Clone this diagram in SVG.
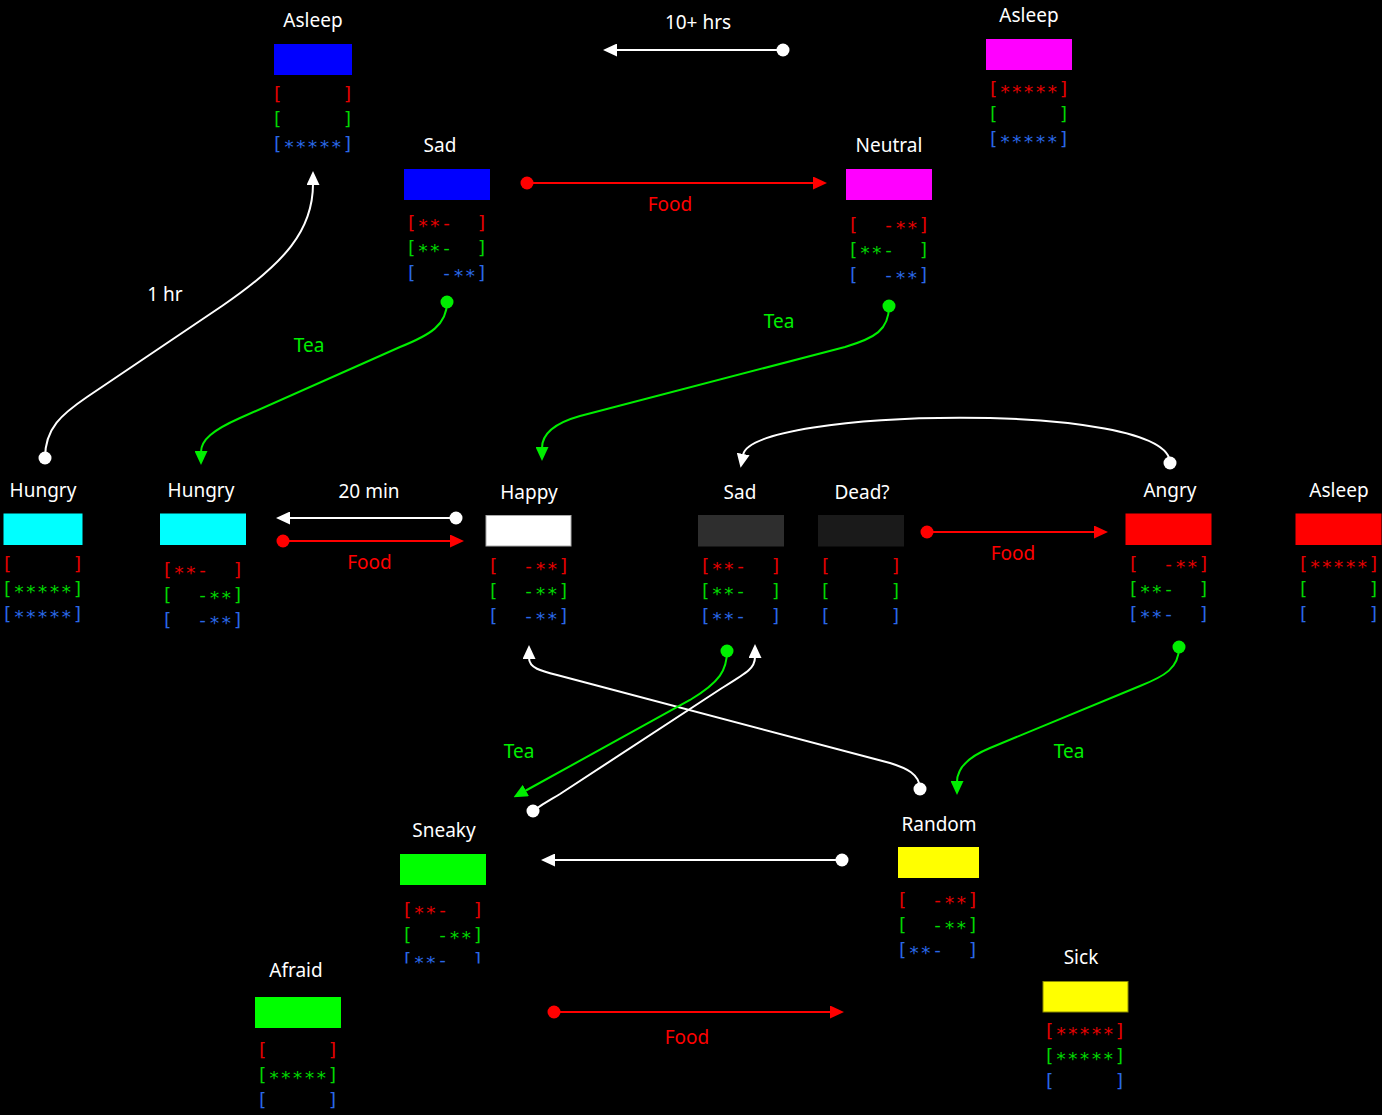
<svg xmlns="http://www.w3.org/2000/svg" width="1382" height="1115" viewBox="0 0 1382 1115">
<style>
.lbl{font-family:"Noto Sans","Open Sans",sans-serif;font-size:19px;fill:#fff;text-anchor:middle}
.lr{fill:#f00}
.lg{fill:#0e0}
.m{font-family:"DejaVu Sans Mono",monospace;font-size:18.5px;letter-spacing:0.7px;text-anchor:middle;white-space:pre}
.r{fill:#e60000}
.g{fill:#00d800}
.b{fill:#2a68e6}
.c{fill:none;stroke-width:2}
.cw{stroke:#fff}
.cr{stroke:#f00}
.cg{stroke:#0e0}
.w{marker-start:url(#dw);marker-end:url(#aw)}
.rd{marker-start:url(#dr);marker-end:url(#ar)}
.gr{marker-start:url(#dg);marker-end:url(#ag)}
</style>
<defs>
<marker id="aw" viewBox="0 0 14 13" refX="1" refY="6.5" markerWidth="14" markerHeight="13" orient="auto" markerUnits="userSpaceOnUse"><path d="M0,0 L14,6.5 L0,13 z" fill="#fff"/></marker>
<marker id="ar" viewBox="0 0 14 13" refX="1" refY="6.5" markerWidth="14" markerHeight="13" orient="auto" markerUnits="userSpaceOnUse"><path d="M0,0 L14,6.5 L0,13 z" fill="#f00"/></marker>
<marker id="ag" viewBox="0 0 14 13" refX="1" refY="6.5" markerWidth="14" markerHeight="13" orient="auto" markerUnits="userSpaceOnUse"><path d="M0,0 L14,6.5 L0,13 z" fill="#0e0"/></marker>
<marker id="dw" viewBox="-7 -7 14 14" refX="0" refY="0" markerWidth="14" markerHeight="14" markerUnits="userSpaceOnUse"><circle r="6.5" fill="#fff"/></marker>
<marker id="dr" viewBox="-7 -7 14 14" refX="0" refY="0" markerWidth="14" markerHeight="14" markerUnits="userSpaceOnUse"><circle r="6.5" fill="#f00"/></marker>
<marker id="dg" viewBox="-7 -7 14 14" refX="0" refY="0" markerWidth="14" markerHeight="14" markerUnits="userSpaceOnUse"><circle r="6.5" fill="#0e0"/></marker>
<clipPath id="clipSneaky"><rect x="380" y="840" width="130" height="123.5"/></clipPath>
</defs>
<rect x="0" y="0" width="1382" height="1115" fill="#000"/>

<g id="connectors">
<path class="c cw w" d="M783,50 L616,50"/>
<text class="lbl" x="698" y="29">10+ hrs</text>
<path class="c cr rd" d="M527,183 L814,183"/>
<text class="lbl lr" x="670" y="211">Food</text>
<path class="c cw w" d="M45,458 C45,428 62,414 87,397 L222,306 C285,263 313,230 313,184"/>
<text class="lbl" x="165" y="301">1 hr</text>
<path class="c cg gr" d="M447,302 C447,325 430,335 400,347 L240,418 C213,430 201,440 201,452"/>
<text class="lbl lg" x="309" y="351.5">Tea</text>
<path class="c cg gr" d="M889,306 C889,330 875,338 845,347 L580,416 C555,423 542,433 542,448"/>
<text class="lbl lg" x="779" y="328">Tea</text>
<path class="c cw w" d="M1170,463 C1170,400 752,408 743,455"/>
<path class="c cw w" d="M456,518 L289,518"/>
<text class="lbl" x="369" y="497.5">20 min</text>
<path class="c cr rd" d="M283,541 L451,541"/>
<text class="lbl lr" x="369.5" y="569">Food</text>
<path class="c cr rd" d="M927,532 L1095,532"/>
<text class="lbl lr" x="1013" y="560">Food</text>
<path class="c cw w" d="M920,789 C920,774 906,768 890,763 L557,675 C541,671 529,668 529,658"/>
<path class="c cw w" d="M533,811 C545,802 550,800 560,794 L722,688 C748,672 755,668 755,657"/>
<path class="c cg gr" d="M727,651 C727,670 720,682 690,700 L525,791"/>
<text class="lbl lg" x="519" y="758">Tea</text>
<path class="c cg gr" d="M1179,647 C1179,668 1165,676 1140,686 L990,748 C968,757 957,768 957,782"/>
<text class="lbl lg" x="1069" y="758">Tea</text>
<path class="c cw w" d="M842,860 L554,860"/>
<path class="c cr rd" d="M554,1012 L831,1012"/>
<text class="lbl lr" x="687" y="1044">Food</text>
</g>

<g id="n-asleep1">
<text class="lbl" x="313" y="26.5">Asleep</text>
<rect x="274" y="44" width="78" height="31" fill="#0000ff"/>
<text class="m r" x="313" y="100">[     ]</text>
<text class="m g" x="313" y="125">[     ]</text>
<text class="m b" x="313" y="150">[<tspan dy="3.4">*****</tspan><tspan dy="-3.4">]</tspan></text>
</g>

<g id="n-sad1">
<text class="lbl" x="440" y="151.5">Sad</text>
<rect x="404" y="169" width="86" height="31" fill="#0000ff"/>
<text class="m r" x="447" y="229">[<tspan dy="3.4">**</tspan><tspan dy="-3.4">-  ]</tspan></text>
<text class="m g" x="447" y="254">[<tspan dy="3.4">**</tspan><tspan dy="-3.4">-  ]</tspan></text>
<text class="m b" x="447" y="279">[  -<tspan dy="3.4">**</tspan><tspan dy="-3.4">]</tspan></text>
</g>

<g id="n-asleep2">
<text class="lbl" x="1029" y="22">Asleep</text>
<rect x="986" y="39" width="86" height="31" fill="#ff00ff"/>
<text class="m r" x="1029" y="95">[<tspan dy="3.4">*****</tspan><tspan dy="-3.4">]</tspan></text>
<text class="m g" x="1029" y="120">[     ]</text>
<text class="m b" x="1029" y="145">[<tspan dy="3.4">*****</tspan><tspan dy="-3.4">]</tspan></text>
</g>

<g id="n-neutral">
<text class="lbl" x="889" y="152">Neutral</text>
<rect x="846" y="169" width="86" height="31" fill="#ff00ff"/>
<text class="m r" x="889" y="231">[  -<tspan dy="3.4">**</tspan><tspan dy="-3.4">]</tspan></text>
<text class="m g" x="889" y="256">[<tspan dy="3.4">**</tspan><tspan dy="-3.4">-  ]</tspan></text>
<text class="m b" x="889" y="281">[  -<tspan dy="3.4">**</tspan><tspan dy="-3.4">]</tspan></text>
</g>

<g id="n-hungry1">
<text class="lbl" x="43" y="496.5">Hungry</text>
<rect x="3.5" y="513.5" width="79" height="31.5" fill="#00ffff"/>
<text class="m r" x="43" y="570">[     ]</text>
<text class="m g" x="43" y="595">[<tspan dy="3.4">*****</tspan><tspan dy="-3.4">]</tspan></text>
<text class="m b" x="43" y="620">[<tspan dy="3.4">*****</tspan><tspan dy="-3.4">]</tspan></text>
</g>

<g id="n-hungry2">
<text class="lbl" x="201" y="496.5">Hungry</text>
<rect x="160" y="513.5" width="86" height="31.5" fill="#00ffff"/>
<text class="m r" x="203" y="576">[<tspan dy="3.4">**</tspan><tspan dy="-3.4">-  ]</tspan></text>
<text class="m g" x="203" y="601">[  -<tspan dy="3.4">**</tspan><tspan dy="-3.4">]</tspan></text>
<text class="m b" x="203" y="626">[  -<tspan dy="3.4">**</tspan><tspan dy="-3.4">]</tspan></text>
</g>

<g id="n-happy">
<text class="lbl" x="529" y="499">Happy</text>
<rect x="486" y="515.5" width="85" height="30.5" fill="#ffffff" stroke="#aaaaaa" stroke-width="1"/>
<text class="m r" x="529" y="572">[  -<tspan dy="3.4">**</tspan><tspan dy="-3.4">]</tspan></text>
<text class="m g" x="529" y="597">[  -<tspan dy="3.4">**</tspan><tspan dy="-3.4">]</tspan></text>
<text class="m b" x="529" y="622">[  -<tspan dy="3.4">**</tspan><tspan dy="-3.4">]</tspan></text>
</g>

<g id="n-sad2">
<text class="lbl" x="740" y="499">Sad</text>
<rect x="698" y="515" width="86" height="31.5" fill="#2e2e2e"/>
<text class="m r" x="741" y="572">[<tspan dy="3.4">**</tspan><tspan dy="-3.4">-  ]</tspan></text>
<text class="m g" x="741" y="597">[<tspan dy="3.4">**</tspan><tspan dy="-3.4">-  ]</tspan></text>
<text class="m b" x="741" y="622">[<tspan dy="3.4">**</tspan><tspan dy="-3.4">-  ]</tspan></text>
</g>

<g id="n-dead">
<text class="lbl" x="862" y="499">Dead?</text>
<rect x="818" y="515" width="86" height="31.5" fill="#1a1a1a"/>
<text class="m r" x="861" y="572">[     ]</text>
<text class="m g" x="861" y="597">[     ]</text>
<text class="m b" x="861" y="622">[     ]</text>
</g>

<g id="n-angry">
<text class="lbl" x="1170" y="496.5">Angry</text>
<rect x="1125.5" y="513.5" width="86" height="31.5" fill="#ff0000"/>
<text class="m r" x="1169" y="570">[  -<tspan dy="3.4">**</tspan><tspan dy="-3.4">]</tspan></text>
<text class="m g" x="1169" y="595">[<tspan dy="3.4">**</tspan><tspan dy="-3.4">-  ]</tspan></text>
<text class="m b" x="1169" y="620">[<tspan dy="3.4">**</tspan><tspan dy="-3.4">-  ]</tspan></text>
</g>

<g id="n-asleep3">
<text class="lbl" x="1339" y="496.5">Asleep</text>
<rect x="1295.5" y="513.5" width="86" height="31.5" fill="#ff0000"/>
<text class="m r" x="1339" y="570">[<tspan dy="3.4">*****</tspan><tspan dy="-3.4">]</tspan></text>
<text class="m g" x="1339" y="595">[     ]</text>
<text class="m b" x="1339" y="620">[     ]</text>
</g>

<g id="n-sneaky">
<text class="lbl" x="444" y="836.5">Sneaky</text>
<rect x="400" y="854" width="86" height="31" fill="#00ff00"/>
<g clip-path="url(#clipSneaky)">
<text class="m r" x="443" y="916">[<tspan dy="3.4">**</tspan><tspan dy="-3.4">-  ]</tspan></text>
<text class="m g" x="443" y="941">[  -<tspan dy="3.4">**</tspan><tspan dy="-3.4">]</tspan></text>
<text class="m b" x="443" y="966">[<tspan dy="3.4">**</tspan><tspan dy="-3.4">-  ]</tspan></text>
</g>
</g>

<g id="n-random">
<text class="lbl" x="939" y="830.5">Random</text>
<rect x="898" y="847" width="81" height="31" fill="#ffff00"/>
<text class="m r" x="938" y="906">[  -<tspan dy="3.4">**</tspan><tspan dy="-3.4">]</tspan></text>
<text class="m g" x="938" y="931">[  -<tspan dy="3.4">**</tspan><tspan dy="-3.4">]</tspan></text>
<text class="m b" x="938" y="956">[<tspan dy="3.4">**</tspan><tspan dy="-3.4">-  ]</tspan></text>
</g>

<g id="n-sick">
<text class="lbl" x="1081" y="964">Sick</text>
<rect x="1043" y="981.5" width="85" height="30.5" fill="#ffff00" stroke="#8a8a00" stroke-width="1"/>
<text class="m r" x="1085" y="1037">[<tspan dy="3.4">*****</tspan><tspan dy="-3.4">]</tspan></text>
<text class="m g" x="1085" y="1062">[<tspan dy="3.4">*****</tspan><tspan dy="-3.4">]</tspan></text>
<text class="m b" x="1085" y="1087">[     ]</text>
</g>

<g id="n-afraid">
<text class="lbl" x="296" y="976.5">Afraid</text>
<rect x="255" y="997" width="86" height="31" fill="#00ff00"/>
<text class="m r" x="298" y="1056">[     ]</text>
<text class="m g" x="298" y="1081">[<tspan dy="3.4">*****</tspan><tspan dy="-3.4">]</tspan></text>
<text class="m b" x="298" y="1106">[     ]</text>
</g>
</svg>
